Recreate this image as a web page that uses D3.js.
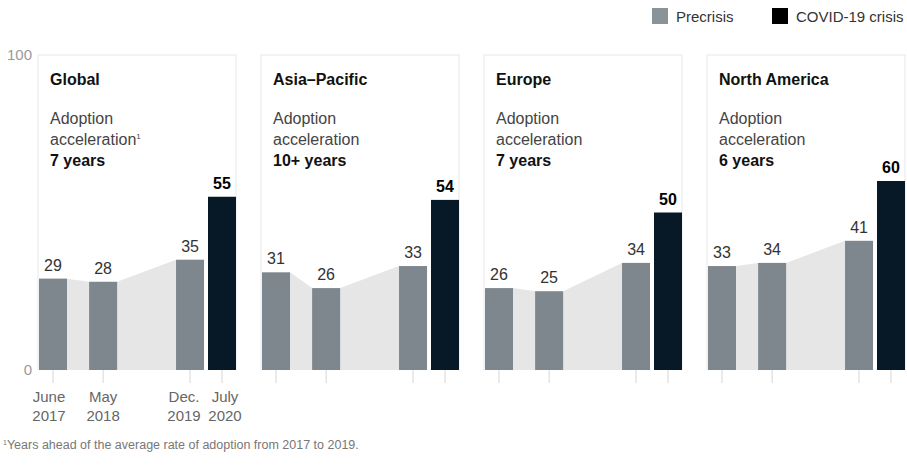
<!DOCTYPE html>
<html>
<head>
<meta charset="utf-8">
<script src="https://cdn.jsdelivr.net/npm/d3@7"></script>
<style>
  body { margin: 0; background: #fff; }
  text { font-family: "Liberation Sans", Arial, sans-serif; }
</style>
</head>
<body>
<script>
// data
var regions = ["Global", "Asia\u2013Pacific", "Europe", "North America"];
var accelYears = ["7 years", "10+ years", "7 years", "6 years"];
var periods = ["2017-06", "2018-05", "2019-12", "2020-07"];
var periodLabels = [["June", "2017"], ["May", "2018"], ["Dec.", "2019"], ["July", "2020"]];
var phases = ["pre", "pre", "pre", "crisis"];
var values = [
  [29, 28, 35, 55],
  [31, 26, 33, 54],
  [26, 25, 34, 50],
  [33, 34, 41, 60]
];
var yTicks = [0, 100];
var legendItems = ["Precrisis", "COVID-19 crisis"];
var footnote = "Years ahead of the average rate of adoption from 2017 to 2019.";

var W = 907, H = 467;
var top0 = 55, base = 370;
var panelW = 198, panelGap = 25, left0 = 38;
var barW = 28;

var colPre = "#7e878d", colCrisis = "#071827", colArea = "#e6e6e6";

var svg = d3.select("body").append("svg")
  .attr("width", W)
  .attr("height", H);

var parse = d3.timeParse("%Y-%m");
var dates = periods.map(parse);

// scales
var y = d3.scaleLinear()
  .domain([0, 100])
  .range([base, top0]);

var x = d3.scaleTime()
  .domain([dates[0], dates[3]])
  .range([barW / 2 + 1, panelW - barW / 2]);

var panelX = d3.scaleBand()
  .domain(regions)
  .range([left0, left0 + 4 * panelW + 3 * panelGap])
  .paddingInner(panelGap / (panelW + panelGap));

// y axis (only 0 and 100)
var yaxis = d3.axisLeft(y)
  .tickValues(yTicks)
  .tickSize(0)
  .tickPadding(3);
var ya = svg.append("g")
  .attr("transform", "translate(" + 35 + ",0)")
  .call(yaxis);
ya.select(".domain").remove();
ya.selectAll("text")
  .style("font-size", "15px")
  .style("fill", "#9a9a9a")
  .style("font-family", "'Liberation Sans', Arial, sans-serif");

// legend
var legX = [652, 772];
legendItems.forEach(function(t, i) {
  svg.append("rect")
    .attr("x", legX[i]).attr("y", 8)
    .attr("width", 16).attr("height", 16)
    .attr("fill", i == 0 ? "#8a9398" : "#000");
  svg.append("text")
    .attr("x", legX[i] + 24).attr("y", 22)
    .style("font-size", "15px")
    .style("fill", "#333")
    .text(t);
});

// panels
regions.forEach(function(name, p) {
  var g = svg.append("g")
    .attr("transform", "translate(" + panelX(name) + ",0)");

  // faint frame
  g.append("path")
    .attr("d", "M0," + base + "V" + top0 + "H" + panelX.bandwidth() + "V" + base)
    .attr("fill", "none")
    .attr("stroke", "#efefef")
    .attr("stroke-width", 1.5);

  var rows = values[p].map(function(v, i) {
    return { d: dates[i], v: v, phase: phases[i] };
  });
  var pre = rows.filter(function(r) { return r.phase == "pre"; });

  // area behind precrisis bars
  var pts = [];
  pre.forEach(function(r) {
    pts.push({ x: x(r.d) - barW / 2, v: r.v });
    pts.push({ x: x(r.d) + barW / 2, v: r.v });
  });
  var area = d3.area()
    .x(function(d) { return d.x; })
    .y0(y(0))
    .y1(function(d) { return y(d.v); });
  g.append("path")
    .datum(pts)
    .attr("d", area)
    .attr("fill", colArea);

  // ticks under bars
  g.selectAll(".tick-line")
    .data(rows)
    .enter().append("line")
    .attr("x1", function(d) { return x(d.d); })
    .attr("x2", function(d) { return x(d.d); })
    .attr("y1", base)
    .attr("y2", base + 13)
    .attr("stroke", "#d6d6d6");

  // bars
  g.selectAll(".bar")
    .data(rows)
    .enter().append("rect")
    .attr("x", function(d) { return x(d.d) - barW / 2; })
    .attr("y", function(d) { return y(d.v); })
    .attr("width", barW)
    .attr("height", function(d) { return y(0) - y(d.v); })
    .attr("fill", function(d) { return d.phase == "pre" ? colPre : colCrisis; });

  // value labels
  g.selectAll(".val")
    .data(rows)
    .enter().append("text")
    .attr("x", function(d) { return x(d.d); })
    .attr("y", function(d) { return y(d.v) - 8; })
    .attr("text-anchor", "middle")
    .style("font-size", "16px")
    .style("font-weight", function(d) { return d.phase == "pre" ? "normal" : "bold"; })
    .style("fill", function(d) { return d.phase == "pre" ? "#333" : "#000"; })
    .text(function(d) { return d.v; });

  // titles
  g.append("text")
    .attr("x", 12).attr("y", 85)
    .style("font-size", "16px")
    .style("font-weight", "bold")
    .style("fill", "#111")
    .text(name);
  g.append("text")
    .attr("x", 12).attr("y", 124)
    .style("font-size", "16px")
    .style("fill", "#444")
    .text("Adoption");
  var acc = g.append("text")
    .attr("x", 12).attr("y", 145)
    .style("font-size", "16px")
    .style("fill", "#444")
    .text("acceleration");
  if (p == 0) {
    acc.append("tspan")
      .attr("dy", -6)
      .style("font-size", "8px")
      .text("1");
  }
  g.append("text")
    .attr("x", 12).attr("y", 166)
    .style("font-size", "16px")
    .style("font-weight", "bold")
    .style("fill", "#111")
    .text(accelYears[p]);

  // period labels, first panel only
  if (p == 0) {
    var shift = [-4, 0, -6, 3];
    rows.forEach(function(r, i) {
      var lx = x(r.d) + shift[i];
      var t = g.append("text")
        .attr("text-anchor", "middle")
        .style("font-size", "15px")
        .style("fill", "#666");
      t.append("tspan").attr("x", lx).attr("y", 402).text(periodLabels[i][0]);
      t.append("tspan").attr("x", lx).attr("y", 421).text(periodLabels[i][1]);
    });
  }
});

// footnote
var fn = svg.append("text")
  .attr("x", 3).attr("y", 449)
  .style("font-size", "12.5px")
  .style("fill", "#777");
fn.append("tspan")
  .attr("dy", -4)
  .style("font-size", "7px")
  .text("1");
fn.append("tspan")
  .attr("dy", 4)
  .text(footnote);
</script>
</body>
</html>
